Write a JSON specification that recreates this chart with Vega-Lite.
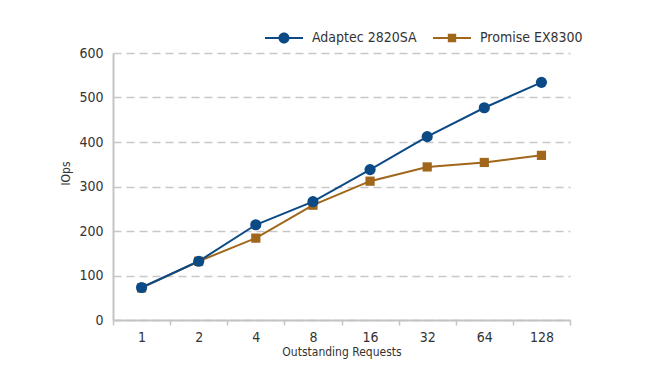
{
  "$schema": "https://vega.github.io/schema/vega-lite/v6.json",
  "width": 457,
  "height": 267,
  "autosize": {"type": "none"},
  "padding": {"left": 113, "top": 53, "right": 95, "bottom": 53},
  "background": "white",
  "config": {
    "view": {"stroke": null},
    "font": "DejaVu Sans Condensed, sans-serif"
  },
  "data": {
    "values": [
      {"ctrl": "Promise EX8300", "req": "1", "iops": 72},
      {"ctrl": "Promise EX8300", "req": "2", "iops": 132},
      {"ctrl": "Promise EX8300", "req": "4", "iops": 184},
      {"ctrl": "Promise EX8300", "req": "8", "iops": 258},
      {"ctrl": "Promise EX8300", "req": "16", "iops": 312},
      {"ctrl": "Promise EX8300", "req": "32", "iops": 344},
      {"ctrl": "Promise EX8300", "req": "64", "iops": 354},
      {"ctrl": "Promise EX8300", "req": "128", "iops": 370},
      {"ctrl": "Adaptec 2820SA", "req": "1", "iops": 73},
      {"ctrl": "Adaptec 2820SA", "req": "2", "iops": 132},
      {"ctrl": "Adaptec 2820SA", "req": "4", "iops": 214},
      {"ctrl": "Adaptec 2820SA", "req": "8", "iops": 266},
      {"ctrl": "Adaptec 2820SA", "req": "16", "iops": 338},
      {"ctrl": "Adaptec 2820SA", "req": "32", "iops": 412},
      {"ctrl": "Adaptec 2820SA", "req": "64", "iops": 477},
      {"ctrl": "Adaptec 2820SA", "req": "128", "iops": 534}
    ]
  },
  "encoding": {
    "x": {
      "field": "req",
      "type": "ordinal",
      "sort": ["1", "2", "4", "8", "16", "32", "64", "128"],
      "scale": {"paddingInner": 0, "paddingOuter": 0},
      "axis": {
        "title": "Outstanding Requests",
        "titleFontSize": 12,
        "titleFontWeight": "normal",
        "titleColor": "#333333",
        "titlePadding": 2,
        "labelAngle": 0,
        "labelFontSize": 14,
        "labelColor": "#333333",
        "labelPadding": 5,
        "domainColor": "#c4c4c4",
        "domainWidth": 2,
        "tickColor": "#c4c4c4",
        "tickWidth": 1.5,
        "tickSize": 5,
        "tickBand": "extent",
        "grid": false
      }
    },
    "y": {
      "field": "iops",
      "type": "quantitative",
      "scale": {"domain": [0, 600], "nice": false},
      "axis": {
        "title": "IOps",
        "titleFontSize": 12,
        "titleFontWeight": "normal",
        "titleColor": "#333333",
        "titleX": -48,
        "titleY": 120,
        "titleAngle": -90,
        "titleAlign": "center",
        "titleBaseline": "middle",
        "values": [0, 100, 200, 300, 400, 500, 600],
        "labelFontSize": 14,
        "labelColor": "#333333",
        "labelPadding": 10,
        "ticks": false,
        "domainColor": "#c4c4c4",
        "domainWidth": 2,
        "grid": true,
        "gridColor": "#c8c8c8",
        "gridWidth": 1.5,
        "gridDash": [8, 5]
      }
    }
  },
  "layer": [
    {
      "mark": {"type": "line", "strokeWidth": 2},
      "encoding": {
        "color": {
          "field": "ctrl",
          "type": "nominal",
          "scale": {"domain": ["Adaptec 2820SA", "Promise EX8300"], "range": ["#0b4a85", "#a0661a"]},
          "legend": null
        }
      }
    },
    {
      "mark": {"type": "point", "filled": true, "opacity": 1},
      "encoding": {
        "color": {
          "field": "ctrl",
          "type": "nominal",
          "scale": {"domain": ["Adaptec 2820SA", "Promise EX8300"], "range": ["#0b4a85", "#a0661a"]},
          "legend": null
        },
        "shape": {
          "field": "ctrl",
          "type": "nominal",
          "scale": {"domain": ["Adaptec 2820SA", "Promise EX8300"], "range": ["circle", "square"]},
          "legend": null
        },
        "size": {
          "field": "ctrl",
          "type": "nominal",
          "scale": {"domain": ["Adaptec 2820SA", "Promise EX8300"], "range": [125, 85]},
          "legend": null
        }
      }
    },
    {
      "mark": {"type": "point", "filled": true, "opacity": 0},
      "encoding": {
        "color": {
          "field": "ctrl",
          "type": "nominal",
          "scale": {"domain": ["Adaptec 2820SA", "Promise EX8300"], "range": ["#0b4a85", "#a0661a"]},
          "legend": {
            "title": null,
            "orient": "none",
            "legendX": 152,
            "legendY": -34,
            "direction": "horizontal",
            "padding": 0,
            "symbolSize": 1444,
            "symbolOpacity": 1,
            "symbolStrokeWidth": 0,
            "labelFontSize": 14,
            "labelColor": "#333333",
            "labelOffset": 9,
            "columnPadding": 16
          }
        },
        "shape": {
          "field": "ctrl",
          "type": "nominal",
          "scale": {
            "domain": ["Adaptec 2820SA", "Promise EX8300"],
            "range": [
              "M-1,-0.055L1,-0.055L1,0.055L-1,0.055Z M0.29,0A0.29,0.29 0 1,1 -0.29,0A0.29,0.29 0 1,1 0.29,0Z",
              "M-1,-0.055L1,-0.055L1,0.055L-1,0.055Z M-0.22,-0.22L0.22,-0.22L0.22,0.22L-0.22,0.22Z"
            ]
          },
          "legend": {
            "title": null,
            "orient": "none",
            "legendX": 152,
            "legendY": -34,
            "direction": "horizontal",
            "padding": 0,
            "symbolSize": 1444,
            "symbolOpacity": 1,
            "symbolStrokeWidth": 0,
            "labelFontSize": 14,
            "labelColor": "#333333",
            "labelOffset": 9,
            "columnPadding": 16
          }
        }
      }
    }
  ],
  "resolve": {"scale": {"color": "independent", "shape": "independent", "size": "independent"}}
}
